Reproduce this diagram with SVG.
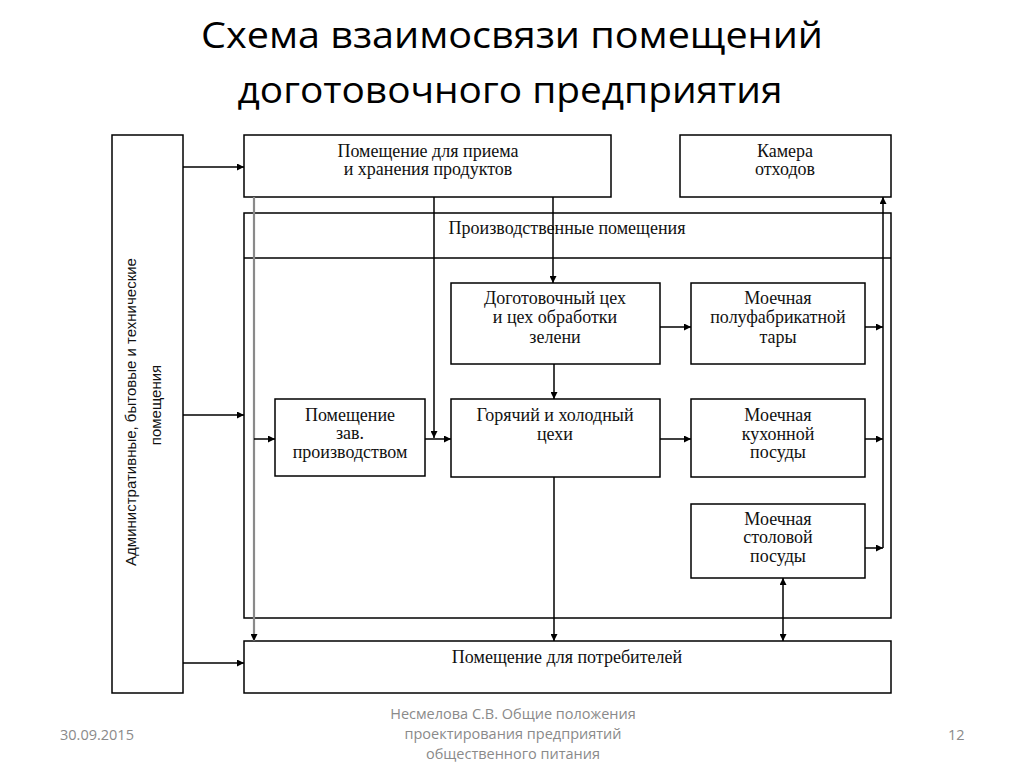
<svg xmlns="http://www.w3.org/2000/svg" width="1024" height="767" viewBox="0 0 1024 767">
<defs>
<marker id="ah" viewBox="0 0 10 10" refX="10" refY="5" markerWidth="9" markerHeight="7" markerUnits="userSpaceOnUse" orient="auto-start-reverse">
<path d="M0,0 L10,5 L0,10 z" fill="#000"/>
</marker>
<style>
.box{fill:#fff;stroke:#000;stroke-width:1.5}
.t{font-family:"Liberation Serif","Times New Roman",serif;font-size:18px;fill:#111;text-anchor:middle}
.s{font-family:"Liberation Sans",Arial,sans-serif;font-size:15px;fill:#111;text-anchor:middle}
.ttl{font-family:"Open Sans","Liberation Sans",sans-serif;font-size:36px;fill:#000;text-anchor:middle}
.ft{font-family:"Open Sans","Liberation Sans",sans-serif;font-size:14.5px;fill:#8a8a8a}
.c{fill:none;stroke:#000;stroke-width:1.5}
</style>
</defs>
<rect width="1024" height="767" fill="#fff"/>
<g id="title">
<text class="ttl" x="512" y="48" textLength="622" lengthAdjust="spacingAndGlyphs">Схема взаимосвязи помещений</text>
<text class="ttl" x="510" y="103" textLength="545" lengthAdjust="spacingAndGlyphs">доготовочного предприятия</text>
</g>
<g id="admin">
<rect class="box" x="112" y="135" width="71" height="558"/>
<text class="s" transform="translate(136,412) rotate(-90)">Административные, бытовые и технические</text>
<text class="s" transform="translate(161,405) rotate(-90)">помещения</text>
</g>
<g id="priem">
<rect class="box" x="244" y="135" width="367" height="62"/>
<text class="t" x="428" y="157">Помещение для приема</text>
<text class="t" x="428" y="175">и хранения продуктов</text>
</g>
<g id="kamera">
<rect class="box" x="680" y="135" width="211" height="62"/>
<text class="t" x="785" y="157">Камера</text>
<text class="t" x="785" y="175">отходов</text>
</g>
<g id="proizv">
<rect class="box" x="244" y="213" width="647" height="405"/>
<line x1="244" y1="258" x2="891" y2="258" stroke="#000" stroke-width="1.5"/>
<text class="t" x="567" y="234">Производственные помещения</text>
</g>
<g id="potreb">
<rect class="box" x="244" y="641" width="647" height="52"/>
<text class="t" x="567" y="663">Помещение для потребителей</text>
</g>
<g id="dogot">
<rect class="box" x="451" y="283" width="209" height="81"/>
<text class="t" x="555" y="304">Доготовочный цех</text>
<text class="t" x="555" y="323">и цех обработки</text>
<text class="t" x="555" y="343">зелени</text>
</g>
<g id="moech1">
<rect class="box" x="691" y="283" width="174" height="81"/>
<text class="t" x="778" y="304">Моечная</text>
<text class="t" x="778" y="323">полуфабрикатной</text>
<text class="t" x="778" y="343">тары</text>
</g>
<g id="zav">
<rect class="box" x="275" y="399" width="150" height="77"/>
<text class="t" x="350" y="421">Помещение</text>
<text class="t" x="350" y="439">зав.</text>
<text class="t" x="350" y="458">производством</text>
</g>
<g id="gor">
<rect class="box" x="451" y="399" width="209" height="78"/>
<text class="t" x="555" y="421">Горячий и холодный</text>
<text class="t" x="555" y="440">цехи</text>
</g>
<g id="moech2">
<rect class="box" x="691" y="399" width="174" height="78"/>
<text class="t" x="778" y="421">Моечная</text>
<text class="t" x="778" y="440">кухонной</text>
<text class="t" x="778" y="458">посуды</text>
</g>
<g id="moech3">
<rect class="box" x="691" y="504" width="174" height="74"/>
<text class="t" x="778" y="525">Моечная</text>
<text class="t" x="778" y="543">столовой</text>
<text class="t" x="778" y="562">посуды</text>
</g>
<g id="connectors">
<line class="c" x1="183" y1="167" x2="244" y2="167" marker-end="url(#ah)"/>
<line class="c" x1="183" y1="415" x2="244" y2="415" marker-end="url(#ah)"/>
<line class="c" x1="183" y1="663" x2="244" y2="663" marker-end="url(#ah)"/>
<line x1="254" y1="197" x2="254" y2="641" stroke="#8a8a8a" stroke-width="2.2" marker-end="url(#ah)"/>
<line class="c" x1="254" y1="439" x2="275" y2="439" marker-end="url(#ah)"/>
<line class="c" x1="434" y1="197" x2="434" y2="438" marker-end="url(#ah)"/>
<line class="c" x1="425" y1="439" x2="451" y2="439" marker-end="url(#ah)"/>
<line class="c" x1="553" y1="197" x2="553" y2="283" marker-end="url(#ah)"/>
<line class="c" x1="554" y1="364" x2="554" y2="399" marker-end="url(#ah)"/>
<line class="c" x1="554" y1="477" x2="554" y2="641" marker-end="url(#ah)"/>
<line class="c" x1="660" y1="327" x2="691" y2="327" marker-end="url(#ah)"/>
<line class="c" x1="660" y1="439" x2="691" y2="439" marker-end="url(#ah)"/>
<line class="c" x1="865" y1="327" x2="883" y2="327" marker-end="url(#ah)"/>
<line class="c" x1="865" y1="439" x2="883" y2="439" marker-end="url(#ah)"/>
<line class="c" x1="865" y1="548" x2="883" y2="548" marker-end="url(#ah)"/>
<line class="c" x1="883" y1="548" x2="883" y2="197" marker-end="url(#ah)"/>
<line class="c" x1="783" y1="578" x2="783" y2="641" marker-start="url(#ah)" marker-end="url(#ah)"/>
</g>
<g id="footer">
<text class="ft" x="60" y="740">30.09.2015</text>
<text class="ft" x="513" y="719" text-anchor="middle">Несмелова С.В. Общие положения</text>
<text class="ft" x="513" y="739" text-anchor="middle">проектирования предприятий</text>
<text class="ft" x="513" y="759" text-anchor="middle">общественного питания</text>
<text class="ft" x="948" y="740">12</text>
</g>
</svg>
